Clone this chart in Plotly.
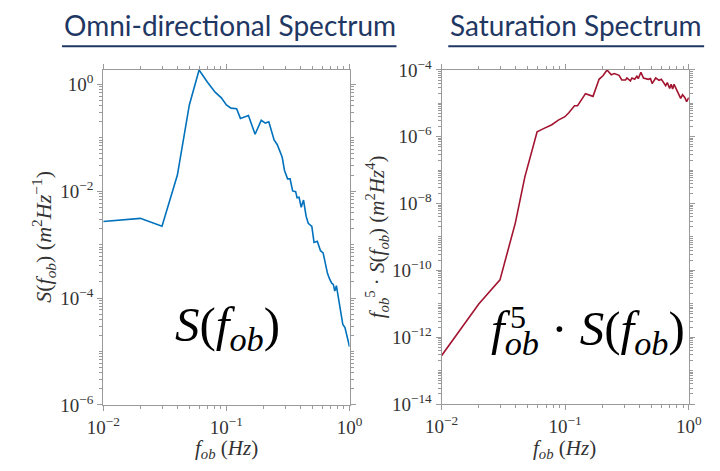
import plotly.graph_objects as go

W, H = 720, 471

# ---- data ----
omni_f = [0.01, 0.02, 0.03, 0.04, 0.05, 0.06, 0.07, 0.081, 0.091, 0.1, 0.109, 0.121, 0.13,
          0.151, 0.171, 0.192, 0.207, 0.221, 0.244, 0.259, 0.284, 0.296, 0.314, 0.329, 0.345,
          0.365, 0.375, 0.389, 0.405, 0.423, 0.444, 0.462, 0.494, 0.515, 0.547, 0.581, 0.61,
          0.636, 0.662, 0.687, 0.716, 0.738, 0.759, 0.782, 0.81, 0.83, 0.855, 0.882, 0.918,
          0.94, 0.964, 0.985, 1.0]
omni_S = [2.7e-3, 3.1e-3, 2.2e-3, 0.02, 0.41, 1.85, 1.1, 0.71, 0.556, 0.41, 0.358, 0.35, 0.23,
          0.26, 0.116, 0.212, 0.188, 0.199, 0.091, 0.074, 0.043, 0.0247, 0.017, 0.017, 0.0101,
          0.0098, 0.0075, 0.0077, 0.005, 0.0068, 0.0034, 0.0025, 0.0022, 0.0011, 0.00115, 7.7e-4,
          7.0e-4, 4.3e-4, 2.9e-4, 2.3e-4, 1.9e-4, 1.8e-4, 1.35e-4, 1.7e-4, 1.0e-4, 7.3e-5, 4.5e-5,
          3.2e-5, 2.8e-5, 2.2e-5, 1.86e-5, 1.4e-5, 1.23e-5]

sat_f = [0.01, 0.02, 0.0297, 0.033, 0.0395, 0.0472, 0.0508, 0.0565, 0.0593, 0.0675, 0.078,
         0.088, 0.0995, 0.107, 0.119, 0.126, 0.146, 0.168, 0.188, 0.203, 0.218, 0.236, 0.25,
         0.273, 0.287, 0.308, 0.316, 0.337, 0.347, 0.365, 0.38, 0.39, 0.41, 0.43, 0.47, 0.49,
         0.505, 0.54, 0.575, 0.60, 0.63, 0.65, 0.67, 0.70, 0.72, 0.74, 0.76, 0.80, 0.83, 0.86,
         0.89, 0.93, 0.96, 1.0]
sat_S = [2.8e-13, 9.8e-12, 5.2e-11, 2.1e-10, 2.6e-9, 6.3e-8, 1.66e-7, 7.4e-7, 1.41e-6, 1.78e-6,
         2.29e-6, 3.16e-6, 3.98e-6, 5.25e-6, 8.5e-6, 8.5e-6, 1.95e-5, 1.62e-5, 5.25e-5, 6.8e-5,
         1.0e-4, 7.2e-5, 7.8e-5, 6.9e-5, 5.0e-5, 5.0e-5, 5.75e-5, 4.7e-5, 5.75e-5, 5.25e-5, 6.5e-5,
         5.5e-5, 8.5e-5, 5.75e-5, 5.25e-5, 5.5e-5, 3.9e-5, 5.75e-5, 4.9e-5, 5.25e-5, 4.2e-5,
         3.4e-5, 4.2e-5, 2.8e-5, 3.7e-5, 2.7e-5, 3.7e-5, 2.4e-5, 1.95e-5, 1.41e-5, 1.82e-5,
         1.48e-5, 1.12e-5, 1.48e-5]

x_ticks = [0.01, 0.1, 1.0]
x_ticktext = ["10<sup>−2</sup>", "10<sup>−1</sup>", "10<sup>0</sup>"]
omni_yticks = [1e-6, 1e-4, 1e-2, 1e0]
omni_ytext = ["10<sup>−6</sup>", "10<sup>−4</sup>", "10<sup>−2</sup>", "10<sup>0</sup>"]
sat_yticks = [1e-14, 1e-12, 1e-10, 1e-8, 1e-6, 1e-4]
sat_ytext = ["10<sup>−14</sup>", "10<sup>−12</sup>", "10<sup>−10</sup>", "10<sup>−8</sup>",
             "10<sup>−6</sup>", "10<sup>−4</sup>"]

BLUE = "#0072BD"
RED = "#A2142F"
NAVY = "#1F3763"
AXC = "#9a9a9a"
TXT = "#333333"
SERIF = "Liberation Serif"


def px(x):
    return x / W


def py(y):
    return 1 - y / H


def minor_vals(lo, hi):
    vals = []
    for e in range(lo, hi):
        for m in range(1, 10):
            if m == 1 and e == lo:
                continue
            vals.append(m * 10.0 ** e)
    return vals


fig = go.Figure()
fig.add_trace(go.Scatter(x=omni_f, y=omni_S, mode="lines", line=dict(color=BLUE, width=1.6),
                         xaxis="x", yaxis="y", showlegend=False))
fig.add_trace(go.Scatter(x=sat_f, y=sat_S, mode="lines", line=dict(color=RED, width=1.6),
                         xaxis="x2", yaxis="y2", showlegend=False))

common = dict(type="log", showgrid=False, zeroline=False, showline=True, linecolor=AXC,
              linewidth=1, mirror="allticks", ticks="outside", ticklen=5, tickcolor=AXC,
              tickfont=dict(family=SERIF, size=19, color=TXT))

fig.update_layout(
    width=W, height=H, margin=dict(l=0, r=0, t=0, b=0),
    paper_bgcolor="white", plot_bgcolor="white",
    font=dict(family=SERIF),
    xaxis=dict(domain=[px(90), px(347)], range=[-2, 0], anchor="y",
               tickvals=x_ticks, ticktext=x_ticktext,
               minor=dict(tickvals=minor_vals(-2, 0), ticklen=3, tickcolor=AXC, ticks="outside"),
               **common),
    yaxis=dict(domain=[py(413), py(60)], range=[-6, 0.268], anchor="x",
               tickvals=omni_yticks, ticktext=omni_ytext,
               minor=dict(tickvals=minor_vals(-6, 1), ticklen=3, tickcolor=AXC, ticks="outside"),
               **common),
    xaxis2=dict(domain=[px(443), px(701)], range=[-2, 0], anchor="y2",
                tickvals=x_ticks, ticktext=x_ticktext,
                minor=dict(tickvals=minor_vals(-2, 0), ticklen=3, tickcolor=AXC, ticks="outside"),
                **common),
    yaxis2=dict(domain=[py(412), py(60)], range=[-14, -4], anchor="x2",
                tickvals=sat_yticks, ticktext=sat_ytext,
                minor=dict(tickvals=minor_vals(-14, -4), ticklen=3, tickcolor=AXC, ticks="outside"),
                **common),
)

ann = []
# titles
ann.append(dict(x=px(47), y=py(13), xref="paper", yref="paper", xanchor="left", yanchor="middle",
                text="Omni-directional Spectrum", showarrow=False,
                font=dict(family="Lato", size=28, color=NAVY)))
ann.append(dict(x=px(450), y=py(13), xref="paper", yref="paper", xanchor="left", yanchor="middle",
                text="Saturation Spectrum", showarrow=False,
                font=dict(family="Lato", size=28, color=NAVY)))
# axis titles
xt = "<i>f</i><sub><i>ob</i></sub> (<i>Hz</i>)"
ann.append(dict(x=px(219), y=py(459), xref="paper", yref="paper", text=xt, showarrow=False,
                xanchor="center", yanchor="middle", font=dict(family=SERIF, size=21, color=TXT)))
ann.append(dict(x=px(571), y=py(459), xref="paper", yref="paper", text=xt, showarrow=False,
                xanchor="center", yanchor="middle", font=dict(family=SERIF, size=21, color=TXT)))
ann.append(dict(x=px(28), y=py(236), xref="paper", yref="paper", textangle=-90, showarrow=False,
                text="<i>S</i>(<i>f</i><sub><i>ob</i></sub>) (<i>m</i><sup>2</sup><i>Hz</i><sup>−1</sup>)",
                xanchor="center", yanchor="middle", font=dict(family=SERIF, size=22, color=TXT)))
ann.append(dict(x=px(376), y=py(236), xref="paper", yref="paper", textangle=-90, showarrow=False,
                text="<i>f</i><sub><i>ob</i></sub><sup>5</sup> · <i>S</i>(<i>f</i><sub><i>ob</i></sub>) (<i>m</i><sup>2</sup><i>Hz</i><sup>4</sup>)",
                xanchor="center", yanchor="middle", font=dict(family=SERIF, size=21, color=TXT)))
# big labels
ann.append(dict(x=px(163), y=py(331), xref="paper", yref="paper", showarrow=False,
                text="<i>S</i>(<i>f</i><sub><i>ob</i></sub>)", xanchor="left", yanchor="middle",
                font=dict(family=SERIF, size=49, color="black")))
ann.append(dict(x=px(493), y=py(336), xref="paper", yref="paper", showarrow=False,
                text="<i>f</i><sub><i>ob</i></sub> · <i>S</i>(<i>f</i><sub><i>ob</i></sub>)",
                xanchor="left", yanchor="middle",
                font=dict(family=SERIF, size=49, color="black")))
ann.append(dict(x=px(512), y=py(320), xref="paper", yref="paper", showarrow=False,
                text="5", xanchor="left", yanchor="middle",
                font=dict(family=SERIF, size=32, color="black")))
fig.update_layout(annotations=ann)

fig.update_layout(shapes=[
    dict(type="line", xref="paper", yref="paper", x0=px(47), x1=px(396), y0=py(35), y1=py(35),
         line=dict(color=NAVY, width=2)),
    dict(type="line", xref="paper", yref="paper", x0=px(450), x1=px(717), y0=py(35), y1=py(35),
         line=dict(color=NAVY, width=2)),
])

fig.write_html("out.html")
